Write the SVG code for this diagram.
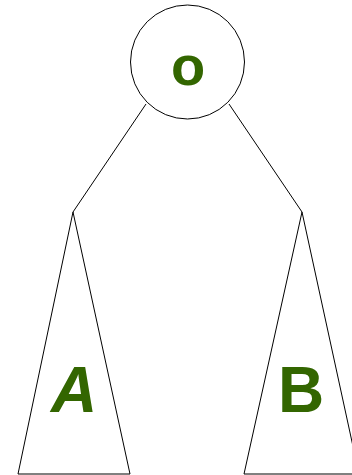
<svg xmlns="http://www.w3.org/2000/svg" width="352" height="475" viewBox="0 0 352 475">
<style>
.shape{fill:#fff;stroke:#000;stroke-width:1}
.edge{stroke:#000;stroke-width:1;fill:none}
.lbl{font-family:"Liberation Sans",Arial,sans-serif;font-weight:bold;fill:#336600;text-anchor:middle}
</style>
<rect width="352" height="475" fill="#fff"/>
<g id="connectors">
<line class="edge" x1="146" y1="104" x2="73" y2="212"/>
<line class="edge" x1="229" y1="104" x2="302" y2="212"/>
</g>
<g id="root">
<circle class="shape" cx="187.5" cy="62" r="57"/>
<text class="lbl" x="188" y="85" font-size="56">o</text>
</g>
<g id="treeA">
<polygon class="shape" points="73,212 18,474 130,474"/>
<text class="lbl" x="74" y="412" font-size="64" font-style="italic">A</text>
</g>
<g id="treeB">
<polygon class="shape" points="302,212 244,474 359,474"/>
<text class="lbl" x="301" y="412" font-size="64">B</text>
</g>
</svg>
